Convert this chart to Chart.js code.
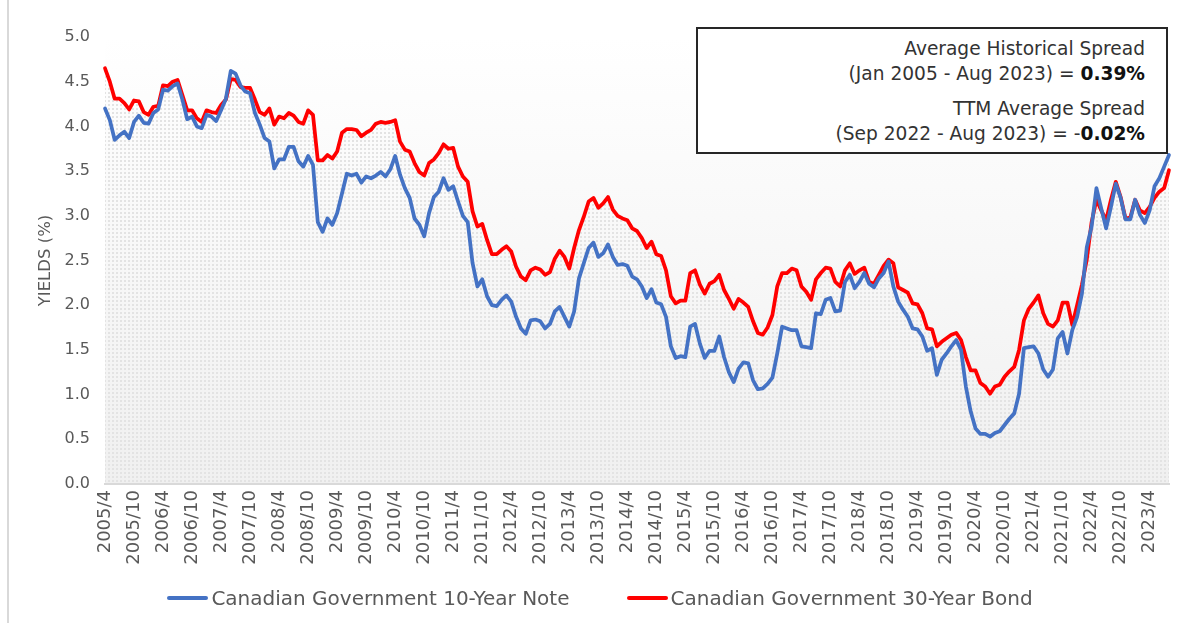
<!DOCTYPE html>
<html>
<head>
<meta charset="utf-8">
<title>Canadian Government Bond Yields</title>
<script src="https://cdn.jsdelivr.net/npm/chart.js@4.4.1/dist/chart.umd.min.js"></script>
<style>
  html, body { margin: 0; padding: 0; background: #fff; }
  #wrap { position: relative; width: 1184px; height: 623px; overflow: hidden; font-family: 'DejaVu Sans', sans-serif; }
  #frame { position: absolute; left: 7px; top: 0; width: 2px; height: 623px; background: #d9d9d9; }
  #yieldChart { position: absolute; left: 0; top: 0; }
  .spread-box {
    position: absolute; left: 696px; top: 27px; width: 472px; height: 127px; box-sizing: border-box;
    border: 2px solid #262626; background: #fff; text-align: right; color: #333;
    font-size: 18.6px; line-height: 25px; padding: 7px 21px 0 0;
  }
  .spread-box p { margin: 0; }
  .spread-box .gap { margin-top: 10px; }
  .spread-box b { color: #111; }
  #legend { position: absolute; left: 0; top: 586px; width: 1200px; display: flex; justify-content: center; gap: 57px; color: #595959; font-size: 20px; line-height: 24px; }
  #legend .item { display: flex; align-items: center; }
  #legend .swatch { width: 41px; height: 4px; border-radius: 2px; margin-right: 3px; }
</style>
</head>
<body>
<div id="wrap">
  <div id="frame"></div>
  <canvas id="yieldChart" width="1184" height="623"></canvas>
  <div class="spread-box">
    <p>Average Historical Spread</p>
    <p>(Jan 2005 - Aug 2023) = <b>0.39%</b></p>
    <p class="gap">TTM Average Spread</p>
    <p>(Sep 2022 - Aug 2023) = -<b>0.02%</b></p>
  </div>
  <div id="legend"></div>
</div>
<script>
// Monthly yields (%), Apr 2005 - Aug 2023, one row per calendar year
const note10 = [
  4.20, 4.07, 3.85, 3.90, 3.94, 3.87, 4.05, 4.12, 4.04,
  4.03, 4.15, 4.19, 4.41, 4.40, 4.45, 4.48, 4.30, 4.08, 4.11, 4.00, 3.98,
  4.13, 4.11, 4.06, 4.18, 4.31, 4.62, 4.59, 4.46, 4.39, 4.37, 4.15, 4.02,
  3.87, 3.83, 3.53, 3.63, 3.63, 3.77, 3.77, 3.61, 3.55, 3.67, 3.57, 2.93,
  2.82, 2.97, 2.90, 3.03, 3.25, 3.47, 3.45, 3.47, 3.37, 3.44, 3.42, 3.45,
  3.49, 3.44, 3.52, 3.67, 3.46, 3.31, 3.20, 2.97, 2.90, 2.77, 3.03, 3.21,
  3.27, 3.42, 3.29, 3.33, 3.16, 3.00, 2.93, 2.47, 2.21, 2.29, 2.10, 2.00,
  1.99, 2.06, 2.11, 2.04, 1.87, 1.74, 1.68, 1.83, 1.84, 1.82, 1.74, 1.79,
  1.93, 1.98, 1.87, 1.76, 1.93, 2.30, 2.47, 2.64, 2.70, 2.54, 2.58, 2.68,
  2.54, 2.45, 2.46, 2.44, 2.32, 2.29, 2.21, 2.08, 2.18, 2.03, 2.01, 1.87,
  1.54, 1.41, 1.43, 1.42, 1.76, 1.79, 1.57, 1.41, 1.49, 1.49, 1.65, 1.42,
  1.25, 1.14, 1.29, 1.36, 1.35, 1.16, 1.06, 1.07, 1.12, 1.19, 1.46, 1.76,
  1.74, 1.72, 1.72, 1.54, 1.53, 1.52, 1.91, 1.90, 2.06, 2.08, 1.93, 1.94,
  2.26, 2.34, 2.19, 2.26, 2.36, 2.24, 2.20, 2.30, 2.36, 2.49, 2.21, 2.04,
  1.95, 1.87, 1.74, 1.73, 1.65, 1.49, 1.52, 1.22, 1.39, 1.46, 1.54, 1.61,
  1.50, 1.09, 0.81, 0.62, 0.56, 0.56, 0.53, 0.57, 0.59, 0.66, 0.73, 0.79,
  1.01, 1.52, 1.53, 1.54, 1.46, 1.28, 1.20, 1.28, 1.63, 1.70, 1.46, 1.72,
  1.87, 2.13, 2.65, 2.88, 3.31, 3.08, 2.86, 3.10, 3.36, 3.20, 2.96, 2.96,
  3.18, 3.01, 2.92, 3.06, 3.33, 3.42, 3.55, 3.68
];

const bond30 = [
  4.65, 4.50, 4.31, 4.31, 4.26, 4.19, 4.29, 4.28, 4.16,
  4.13, 4.22, 4.23, 4.46, 4.45, 4.50, 4.52, 4.35, 4.18, 4.18, 4.09, 4.05,
  4.18, 4.16, 4.15, 4.24, 4.30, 4.53, 4.52, 4.44, 4.43, 4.43, 4.30, 4.16,
  4.13, 4.20, 4.02, 4.11, 4.09, 4.15, 4.12, 4.05, 4.03, 4.18, 4.13, 3.62,
  3.62, 3.68, 3.64, 3.72, 3.93, 3.97, 3.97, 3.96, 3.89, 3.93, 3.96, 4.03,
  4.05, 4.04, 4.05, 4.07, 3.83, 3.74, 3.72, 3.59, 3.49, 3.45, 3.59, 3.63,
  3.70, 3.80, 3.75, 3.76, 3.55, 3.44, 3.38, 3.05, 2.88, 2.91, 2.73, 2.57,
  2.57, 2.62, 2.66, 2.60, 2.43, 2.32, 2.28, 2.39, 2.42, 2.40, 2.34, 2.37,
  2.52, 2.61, 2.54, 2.41, 2.64, 2.84, 2.99, 3.16, 3.20, 3.09, 3.14, 3.21,
  3.07, 3.00, 2.97, 2.95, 2.86, 2.83, 2.75, 2.64, 2.71, 2.57, 2.55, 2.39,
  2.10, 2.02, 2.05, 2.05, 2.36, 2.39, 2.23, 2.13, 2.24, 2.27, 2.34, 2.17,
  2.07, 1.96, 2.07, 2.03, 1.98, 1.82, 1.69, 1.67, 1.75, 1.89, 2.21, 2.36,
  2.36, 2.41, 2.39, 2.21, 2.15, 2.06, 2.29, 2.36, 2.42, 2.41, 2.26, 2.21,
  2.39, 2.47, 2.35, 2.39, 2.42, 2.26, 2.24, 2.34, 2.44, 2.51, 2.47, 2.20,
  2.17, 2.14, 2.02, 2.01, 1.91, 1.74, 1.73, 1.54, 1.59, 1.63, 1.67, 1.69,
  1.61, 1.42, 1.27, 1.27, 1.13, 1.09, 1.01, 1.09, 1.11, 1.20, 1.26, 1.31,
  1.50, 1.83, 1.96, 2.03, 2.11, 1.91, 1.79, 1.76, 1.83, 2.03, 2.03, 1.78,
  2.00, 2.23, 2.51, 2.93, 3.18, 3.06, 2.95, 3.18, 3.38, 3.21, 2.97, 2.98,
  3.18, 3.06, 3.03, 3.10, 3.20, 3.27, 3.31, 3.51
];

const seriesNames = ['Canadian Government 10-Year Note', 'Canadian Government 30-Year Bond'];
const seriesColors = ['#4472C4', '#FF0000'];

// month labels "YYYY/M", a tick shown every 6 months
const startYear = 2005, startMonth = 4, tickEvery = 6;
const months = note10.map((_, i) => {
  const m = startMonth - 1 + i;
  return (startYear + Math.floor(m / 12)) + '/' + (m % 12 + 1);
});
const yTicks = { min: 0, max: 5, step: 0.5 };

const grey = '#595959';
const fontFamily = "'DejaVu Sans', sans-serif";

// dotted fill under the lines
function dotPattern() {
  const c = document.createElement('canvas');
  c.width = 4; c.height = 4;
  const g = c.getContext('2d');
  g.fillStyle = '#e3e3e3';
  g.fillRect(0, 0, 2, 2);
  return g.createPattern(c, 'repeat');
}
const dots = dotPattern();

// soft white-to-grey gradient behind the plot
const plotBackground = {
  id: 'plotBackground',
  beforeDraw(chart) {
    const { ctx, chartArea: a } = chart;
    const grad = ctx.createLinearGradient(0, a.top, 0, a.bottom);
    grad.addColorStop(0, '#ffffff');
    grad.addColorStop(1, '#f0f0f0');
    ctx.save();
    ctx.fillStyle = grad;
    ctx.fillRect(a.left, a.top, a.right - a.left, a.bottom - a.top);
    ctx.restore();
  }
};

const lineDataset = (label, data, color) => ({
  label, data,
  borderColor: color,
  backgroundColor: dots,
  borderWidth: 3.75,
  borderJoinStyle: 'round',
  borderCapStyle: 'round',
  pointRadius: 0,
  tension: 0,
  fill: 'origin'
});

new Chart(document.getElementById('yieldChart'), {
  type: 'line',
  data: {
    labels: months,
    datasets: [
      lineDataset(seriesNames[0], note10, seriesColors[0]),
      lineDataset(seriesNames[1], bond30, seriesColors[1])
    ]
  },
  plugins: [plotBackground],
  options: {
    responsive: false,
    animation: false,
    devicePixelRatio: 1,
    layout: { padding: { left: 22, right: 15, top: 37, bottom: 59 } },
    plugins: {
      legend: { display: false },
      tooltip: { enabled: false },
      filler: { drawTime: 'beforeDatasetsDraw' }
    },
    scales: {
      x: {
        type: 'category',
        offset: false,
        grid: { display: false, drawTicks: false },
        border: { display: true, color: '#d9d9d9', width: 2 },
        ticks: {
          autoSkip: false,
          minRotation: 90,
          maxRotation: 90,
          padding: 6,
          color: grey,
          font: { family: fontFamily, size: 18 },
          callback(value, index) {
            return index % tickEvery === 0 ? this.getLabelForValue(value) : null;
          }
        },
        afterFit(scale) { scale.height = 80; }
      },
      y: {
        min: yTicks.min,
        max: yTicks.max,
        grid: { display: false, drawTicks: false },
        border: { display: false },
        ticks: {
          stepSize: yTicks.step,
          padding: 15,
          color: grey,
          font: { family: fontFamily, size: 16 },
          callback: v => v.toFixed(1)
        },
        title: {
          display: true,
          text: 'YIELDS (%)',
          color: grey,
          font: { family: fontFamily, size: 16.5 },
          padding: { top: 14, bottom: 0 }
        },
        afterFit(scale) { scale.width = 83; }
      }
    }
  }
});

// legend row under the axis
const legend = document.getElementById('legend');
seriesNames.forEach((name, i) => {
  const item = document.createElement('div');
  item.className = 'item';
  const sw = document.createElement('span');
  sw.className = 'swatch';
  sw.style.background = seriesColors[i];
  const txt = document.createElement('span');
  txt.textContent = name;
  item.append(sw, txt);
  legend.appendChild(item);
});
</script>
</body>
</html>
